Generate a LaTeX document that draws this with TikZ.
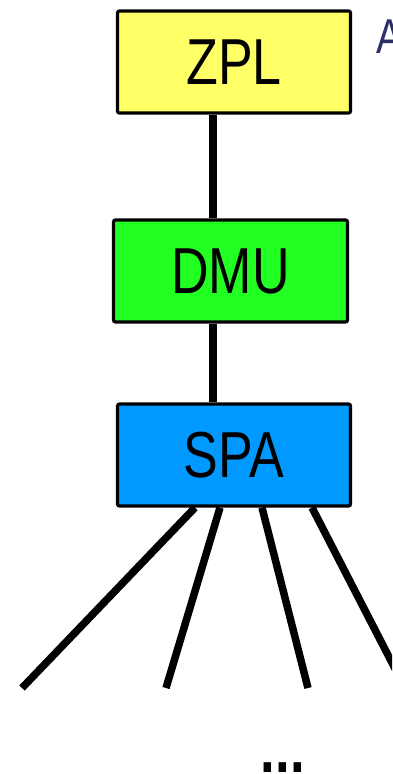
\documentclass[tikz,border=0pt]{standalone}
\usepackage{fontspec}
\usepackage{graphicx}
\setmainfont{Liberation Sans}
\definecolor{zplfill}{HTML}{FFFF66}
\definecolor{dmufill}{HTML}{22FF22}
\definecolor{spafill}{HTML}{0099FF}
\definecolor{titlenavy}{HTML}{2E2E6B}
\newcommand{\boxlabel}[1]{\scalebox{0.8}[1]{\fontsize{65}{70}\selectfont #1}}
\begin{document}
\begin{tikzpicture}[x=1pt,y=-1pt,
  layerbox/.style={draw=black, line width=3.2pt, rounded corners=2pt,
    minimum width=233pt, minimum height=102pt, inner sep=0pt},
  link/.style={line width=7.5pt, line cap=butt}]
\useasboundingbox (0,0) rectangle (392,774);
\clip (0,0) rectangle (392,774);

% layer boxes
\node[layerbox, fill=zplfill] (zpl) at (234,62) {\boxlabel{ZPL}};
\node[layerbox, fill=dmufill, minimum width=234pt] (dmu) at (230.5,271) {\boxlabel{DMU}};
\node[layerbox, fill=spafill] (spa) at (234,455) {\boxlabel{SPA}};

% vertical trunk between the layers
\coordinate (trunk) at (213,0);
\draw[link] (zpl.south -| trunk) -- (dmu.north -| trunk);
\draw[link] (dmu.south -| trunk) -- (spa.north -| trunk);

% fan-out below SPA
\coordinate (leaf1) at (22,688);
\coordinate (leaf2) at (166,688);
\coordinate (leaf3) at (308,688);
\coordinate (leaf4) at (405,688);
\draw[link] ([xshift=-39pt]spa.south) -- (leaf1);
\draw[link] ([xshift=-14pt]spa.south) -- (leaf2);
\draw[link] ([xshift=28pt]spa.south) -- (leaf3);
\draw[link] ([xshift=78pt]spa.south) -- (leaf4);

% ellipsis below the leaves
\node[anchor=base, inner sep=0pt] (more) at (283,772)
  {\scalebox{0.8}[1]{\fontsize{66}{70}\selectfont\bfseries ...}};

% title, cut by the right edge
\node[anchor=base west, inner sep=0pt, text=titlenavy] (title) at (376,53)
  {\scalebox{0.8}[1]{\fontsize{49}{55}\selectfont A}};
\end{tikzpicture}
\end{document}
